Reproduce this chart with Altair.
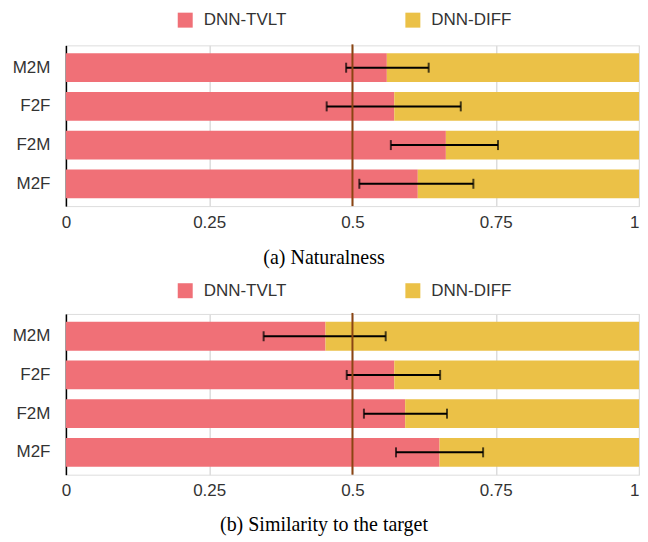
import altair as alt
import pandas as pd

categories = ["M2M", "F2F", "F2M", "M2F"]
series = ["DNN-TVLT", "DNN-DIFF"]
colors = ["#F07077", "#EBC147"]
x_ticks = [0, 0.25, 0.5, 0.75, 1]

# (a) Naturalness
nat_tvlt = [0.560, 0.573, 0.663, 0.614]
nat_lo = [0.489, 0.455, 0.567, 0.512]
nat_hi = [0.633, 0.689, 0.754, 0.711]

# (b) Similarity to the target
sim_tvlt = [0.453, 0.573, 0.592, 0.652]
sim_lo = [0.345, 0.490, 0.520, 0.576]
sim_hi = [0.558, 0.653, 0.665, 0.728]

chance = [0.5]

W = 574
H = 161
SANS = "Liberation Sans"


def panel(tvlt, lo, hi, caption, legend_y, cap_offset):
    rows = []
    for c, t in zip(categories, tvlt):
        rows.append({"cat": c, "series": series[0], "start": 0.0, "end": t})
        rows.append({"cat": c, "series": series[1], "start": t, "end": 1.0})
    bars_df = pd.DataFrame(rows)
    err_df = pd.DataFrame({"cat": categories, "lo": lo, "hi": hi})
    cap_rows = []
    for c, l, h in zip(categories, lo, hi):
        cap_rows.append({"cat": c, "v": l})
        cap_rows.append({"cat": c, "v": h})
    cap_df = pd.DataFrame(cap_rows)

    yscale = alt.Scale(domain=categories, paddingInner=0.256, paddingOuter=0.205)
    xscale = alt.Scale(domain=[0, 1], nice=False, zero=True)

    bars = alt.Chart(bars_df).mark_bar().encode(
        y=alt.Y("cat:N", sort=categories, scale=yscale, title=None,
                axis=alt.Axis(domain=True, domainColor="black", domainWidth=1.5,
                              ticks=False, labelFontSize=17, labelFont=SANS,
                              labelColor="#333", labelPadding=16, minExtent=57,
                              grid=False)),
        x=alt.X("start:Q", scale=xscale, title=None,
                axis=alt.Axis(values=x_ticks, format="~g", domain=False, ticks=False,
                              grid=True, gridColor="#dcdcdc", gridWidth=1.5,
                              labelFontSize=17, labelFont=SANS, labelColor="#333",
                              labelPadding=8, labelFlush=False,
                              labelAlign={"condition": {"test": "datum.value == 1", "value": "right"},
                                          "value": "center"})),
        x2="end:Q",
        color=alt.Color("series:N", scale=alt.Scale(domain=series, range=colors),
                        legend=alt.Legend(title=None, orient="none", direction="horizontal",
                                          legendX=111, legendY=legend_y,
                                          symbolType="square", symbolSize=225,
                                          symbolStrokeWidth=0, labelFontSize=17,
                                          labelFont=SANS, labelColor="#333",
                                          labelOffset=10, columnPadding=118)),
    )

    err = alt.Chart(err_df).mark_rule(color="black", strokeWidth=2).encode(
        y=alt.Y("cat:N", sort=categories, scale=yscale),
        x=alt.X("lo:Q", scale=xscale),
        x2="hi:Q",
    )
    caps = alt.Chart(cap_df).mark_tick(color="black", thickness=2, size=10).encode(
        y=alt.Y("cat:N", sort=categories, scale=yscale),
        x=alt.X("v:Q", scale=xscale),
    )
    ref = alt.Chart(pd.DataFrame({"v": chance})).mark_rule(
        color="#8B4513", strokeWidth=2).encode(
        x=alt.X("v:Q", scale=xscale),
        y=alt.value(-1),
        y2=alt.value(H),
    )
    return alt.layer(bars, err, caps, ref).properties(
        width=W, height=H,
        title=alt.TitleParams(caption, orient="bottom", anchor="middle", frame="bounds",
                              font="Liberation Serif", fontSize=20, fontWeight="normal",
                              color="black", offset=cap_offset),
    )


chart = alt.vconcat(
    panel(nat_tvlt, nat_lo, nat_hi, "(a) Naturalness", -34, 18),
    panel(sim_tvlt, sim_lo, sim_hi, "(b) Similarity to the target", -32, 16),
    spacing=12,
).resolve_legend(color="independent").configure_view(stroke=None).configure(
    background="white", padding={"top": 2, "left": 0, "right": 0, "bottom": 0}
)

chart.save("out.html", embed_options={"renderer": "svg", "actions": False})
